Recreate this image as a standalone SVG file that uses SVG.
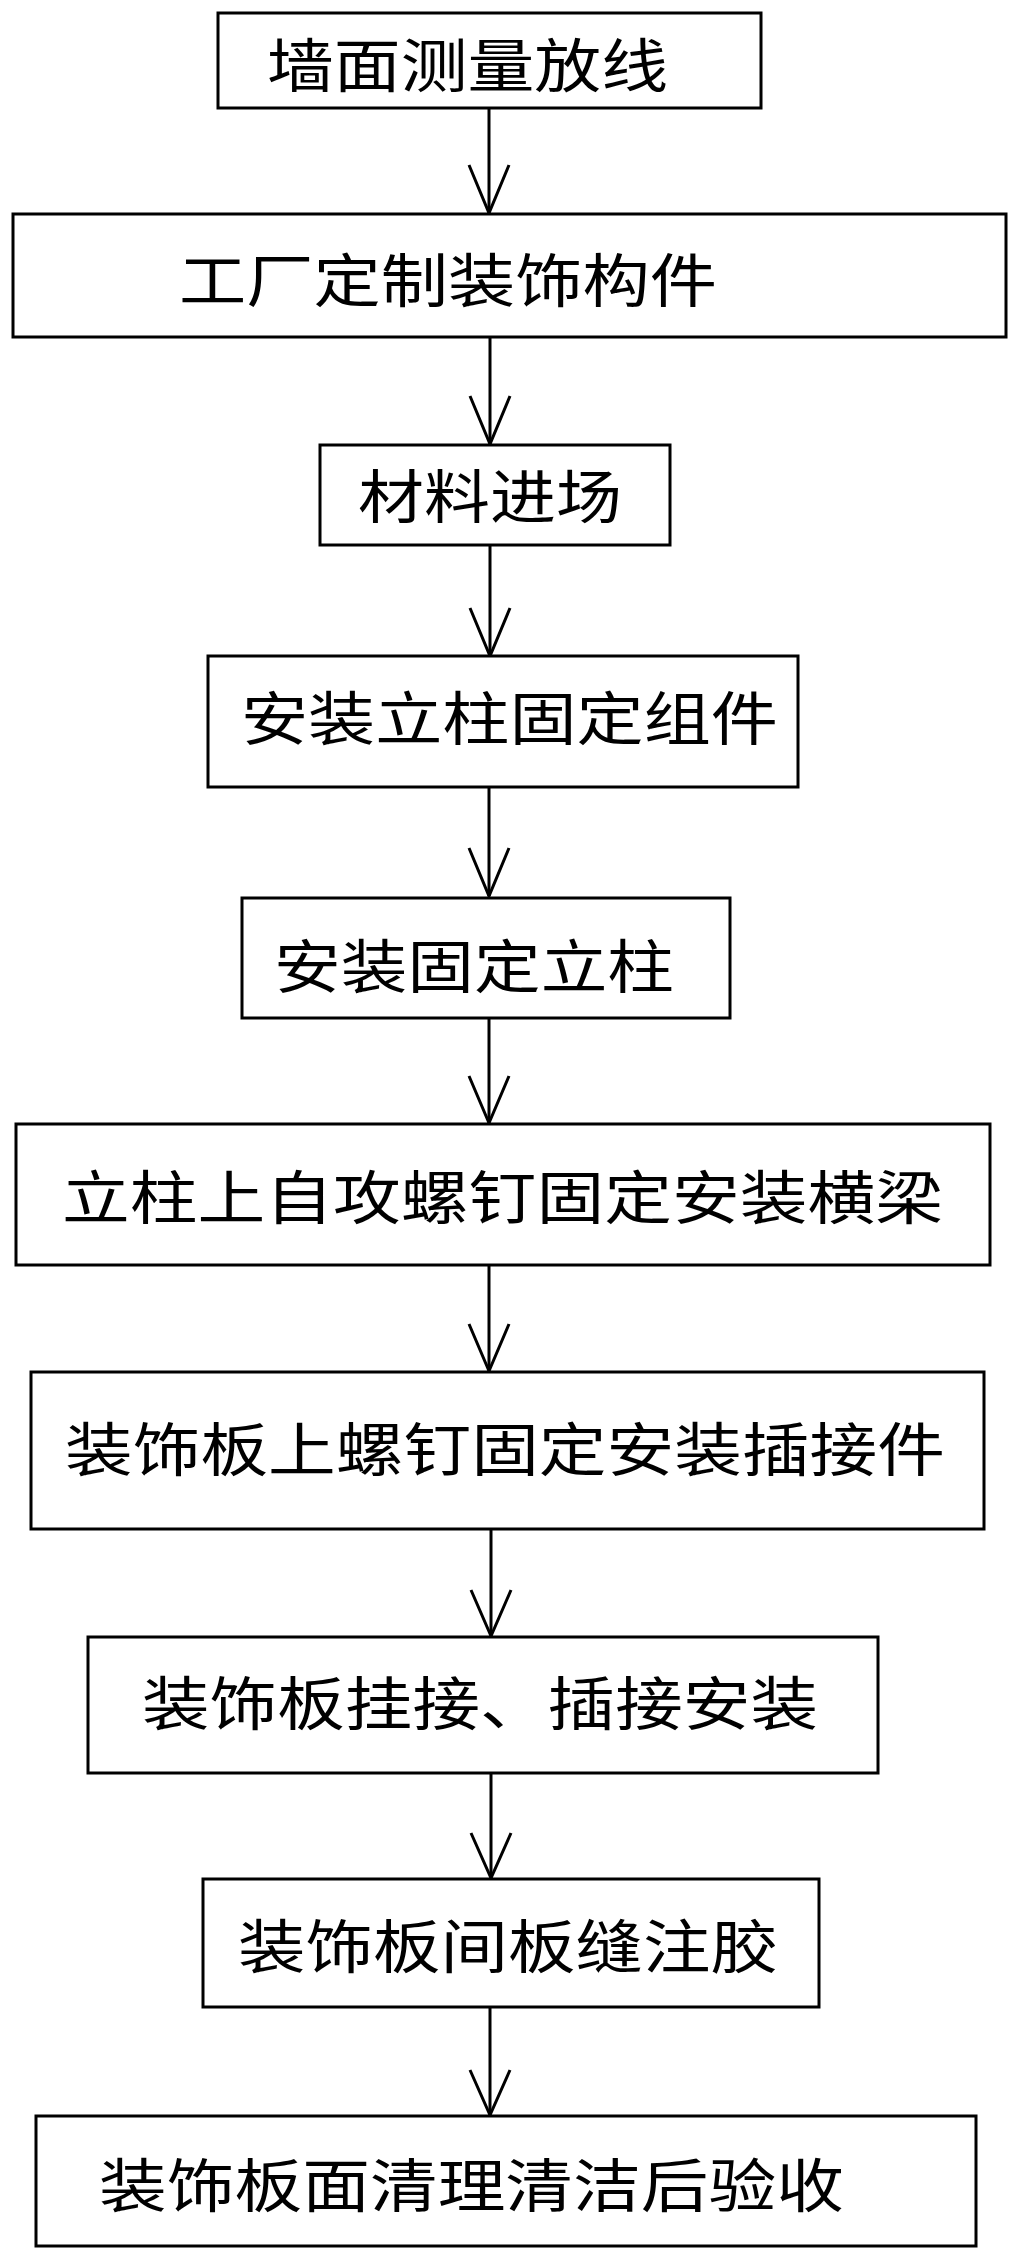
<svg xmlns="http://www.w3.org/2000/svg" width="1011" height="2263" viewBox="0 0 1011 2263">
<style>
rect{fill:#fff;stroke:#000;stroke-width:3}
text{font-family:"Noto Sans CJK SC","Liberation Serif",sans-serif;font-size:58px;fill:#000;dominant-baseline:central}
.c line,.c polyline{stroke:#000;stroke-width:3;fill:none}
</style>
<rect x="0" y="0" width="1011" height="2263" style="stroke:none"/>
<g class="c" id="connectors">
<line x1="489" y1="108" x2="489" y2="213"/><polyline points="469,165 489,213 509,165"/>
<line x1="490" y1="337" x2="490" y2="444"/><polyline points="470,396 490,444 510,396"/>
<line x1="490" y1="545" x2="490" y2="656"/><polyline points="470,608 490,656 510,608"/>
<line x1="489" y1="787" x2="489" y2="896"/><polyline points="469,848 489,896 509,848"/>
<line x1="489" y1="1018" x2="489" y2="1123"/><polyline points="469,1076 489,1123 509,1076"/>
<line x1="489" y1="1265" x2="489" y2="1371"/><polyline points="469,1324 489,1371 509,1324"/>
<line x1="491" y1="1529" x2="491" y2="1636"/><polyline points="471,1590 491,1636 511,1590"/>
<line x1="491" y1="1773" x2="491" y2="1878"/><polyline points="471,1833 491,1878 511,1833"/>
<line x1="490" y1="2007" x2="490" y2="2115"/><polyline points="470,2070 490,2115 510,2070"/>
</g>
<g id="n1"><rect x="218" y="13" width="543" height="95"/><text x="267" y="62" textLength="401" lengthAdjust="spacingAndGlyphs">墙面测量放线</text></g>
<g id="n2"><rect x="13" y="214" width="993" height="123"/><text x="179" y="277" textLength="538" lengthAdjust="spacingAndGlyphs">工厂定制装饰构件</text></g>
<g id="n3"><rect x="320" y="445" width="350" height="100"/><text x="358" y="493" textLength="264" lengthAdjust="spacingAndGlyphs">材料进场</text></g>
<g id="n4"><rect x="208" y="656" width="590" height="131"/><text x="241" y="715" textLength="537" lengthAdjust="spacingAndGlyphs">安装立柱固定组件</text></g>
<g id="n5"><rect x="242" y="898" width="488" height="120"/><text x="274" y="963" textLength="400" lengthAdjust="spacingAndGlyphs">安装固定立柱</text></g>
<g id="n6"><rect x="16" y="1124" width="974" height="141"/><text x="62" y="1194" textLength="881" lengthAdjust="spacingAndGlyphs">立柱上自攻螺钉固定安装横梁</text></g>
<g id="n7"><rect x="31" y="1372" width="953" height="157"/><text x="65" y="1446" textLength="880" lengthAdjust="spacingAndGlyphs">装饰板上螺钉固定安装插接件</text></g>
<g id="n8"><rect x="88" y="1637" width="790" height="136"/><text x="142" y="1700" textLength="676" lengthAdjust="spacingAndGlyphs">装饰板挂接、插接安装</text></g>
<g id="n9"><rect x="203" y="1879" width="616" height="128"/><text x="238" y="1943" textLength="540" lengthAdjust="spacingAndGlyphs">装饰板间板缝注胶</text></g>
<g id="n10"><rect x="36" y="2116" width="940" height="130"/><text x="99" y="2182" textLength="745" lengthAdjust="spacingAndGlyphs">装饰板面清理清洁后验收</text></g>
</svg>
